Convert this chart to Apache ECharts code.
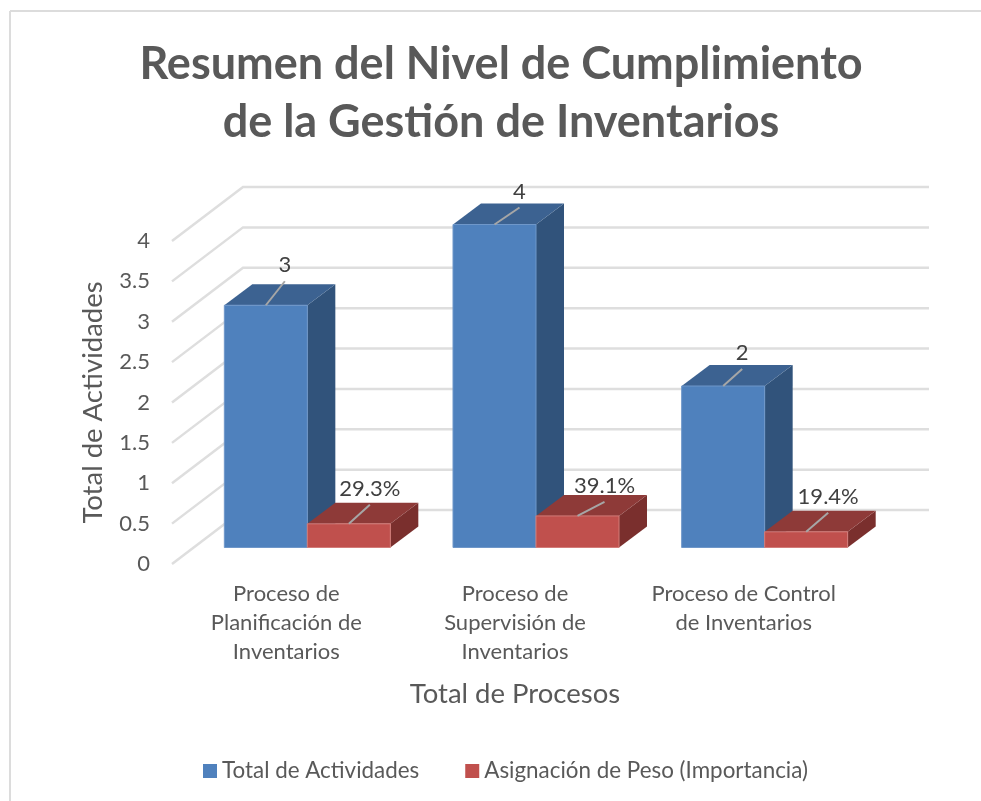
<!DOCTYPE html>
<html>
<head>
<meta charset="utf-8">
<style>
  html, body { margin: 0; padding: 0; background: #fff; }
  #chart { width: 981px; height: 801px; }
</style>
<script src="https://cdn.jsdelivr.net/npm/echarts@6/dist/echarts.min.js"></script>
</head>
<body>
<div id="chart"></div>
<script>
var categories = ['Proceso de\nPlanificación de\nInventarios', 'Proceso de\nSupervisión de\nInventarios', 'Proceso de Control\nde Inventarios']
var totalActividades = [3, 4, 2]
var asignacionPeso = [0.293, 0.391, 0.194]
var yTicks = [0, 0.5, 1, 1.5, 2, 2.5, 3, 3.5, 4]

var FONT = 'Lato, sans-serif'
// fake 3d: wall depth and where the bars stand on the floor
var WALL_DX = 71
var WALL_DY = 54
var BAR_DX = 21
var BAR_DY = 16.5
var BAR_W = 83
var TOP_DX = 28
var TOP_DY = 21

// little leader line from the top face to the data label
var leaders = {
  blue: [[19, -24], [25, -17], [19, -17]],
  red: [[21, -19], [27, -14], [22, -19]]
}

function wallItem(params, api) {
  var rect = params.coordSys
  var y = api.coord([0, api.value(0)])[1]
  var x = rect.x
  return {
    type: 'polyline',
    silent: true,
    shape: {
      points: [[x, y], [x + WALL_DX, y - WALL_DY], [x + rect.width + WALL_DX, y - WALL_DY]]
    },
    style: { fill: null, stroke: '#dedede', lineWidth: 2.5 }
  }
}

function barItem(colors, slot, leader, format) {
  return function (params, api) {
    var i = params.dataIndex
    var val = api.value(1)
    var base = api.coord([i, 0])
    var top = api.coord([i, val])
    var x0 = base[0] + BAR_DX + (slot === 0 ? -BAR_W : 0)
    var x1 = x0 + BAR_W
    var yb = base[1] - BAR_DY
    var yt = top[1] - BAR_DY
    var midX = (x0 + x1) / 2
    var end = [midX + leader[i][0], yt + leader[i][1]]
    return {
      type: 'group',
      children: [
        {
          type: 'polygon',
          shape: { points: [[x1, yb], [x1 + TOP_DX, yb - TOP_DY], [x1 + TOP_DX, yt - TOP_DY], [x1, yt]] },
          style: { fill: colors.side }
        },
        {
          type: 'polygon',
          shape: { points: [[x0, yt], [x1, yt], [x1 + TOP_DX, yt - TOP_DY], [x0 + TOP_DX, yt - TOP_DY]] },
          style: { fill: colors.top }
        },
        {
          type: 'rect',
          shape: { x: x0, y: yt, width: BAR_W, height: yb - yt },
          style: { fill: colors.front, stroke: colors.edge, lineWidth: 1 }
        },
        {
          type: 'line',
          shape: { x1: midX, y1: yt, x2: end[0], y2: end[1] },
          style: { stroke: '#a6a6a6', lineWidth: 2 }
        },
        {
          type: 'text',
          style: {
            x: end[0],
            y: end[1] - 5,
            text: format(val),
            fill: '#404040',
            font: '22px ' + FONT,
            textAlign: 'center',
            textVerticalAlign: 'bottom'
          }
        }
      ]
    }
  }
}

var chart = echarts.init(document.getElementById('chart'))

chart.setOption({
  animation: false,
  backgroundColor: '#fff',
  title: {
    text: 'Resumen del Nivel de Cumplimiento\nde la Gestión de Inventarios',
    left: 496,
    top: 30,
    textAlign: 'center',
    textStyle: { fontFamily: FONT, fontSize: 45, fontWeight: 'bold', color: '#595959', lineHeight: 58 }
  },
  legend: {
    left: 198,
    top: 755,
    itemWidth: 14,
    itemHeight: 14,
    itemGap: 46,
    icon: 'rect',
    data: ['Total de Actividades', 'Asignación de Peso (Importancia)'],
    textStyle: { fontFamily: FONT, fontSize: 22.4, color: '#595959' }
  },
  graphic: [
    { type: 'line', silent: true, shape: { x1: 10, y1: 11, x2: 981, y2: 11 }, style: { stroke: '#dcdcdc', lineWidth: 2 } },
    { type: 'line', silent: true, shape: { x1: 10, y1: 11, x2: 10, y2: 801 }, style: { stroke: '#dcdcdc', lineWidth: 2 } }
  ],
  grid: { left: 172, top: 241, width: 686, height: 323 },
  xAxis: {
    type: 'category',
    data: categories,
    name: 'Total de Procesos',
    nameLocation: 'middle',
    nameGap: 116,
    nameTextStyle: { fontFamily: FONT, fontSize: 27.5, color: '#595959' },
    axisLine: { show: false },
    axisTick: { show: false },
    axisLabel: { fontFamily: FONT, fontSize: 22, color: '#595959', lineHeight: 29, margin: 15, interval: 0 }
  },
  yAxis: {
    type: 'value',
    min: 0,
    max: 4,
    interval: 0.5,
    name: 'Total de Actividades',
    nameLocation: 'middle',
    nameGap: 65,
    nameTextStyle: { fontFamily: FONT, fontSize: 27.5, color: '#595959' },
    axisLine: { show: false },
    axisTick: { show: false },
    splitLine: { show: false },
    axisLabel: { fontFamily: FONT, fontSize: 22, color: '#595959', margin: 22, padding: [8, 0, 0, 0] }
  },
  series: [
    {
      type: 'custom',
      name: 'wall',
      silent: true,
      z: 1,
      encode: { y: 0 },
      data: yTicks.map(function (t) { return [t] }),
      renderItem: wallItem
    },
    {
      type: 'custom',
      name: 'Total de Actividades',
      z: 2,
      itemStyle: { color: '#4f81bd' },
      encode: { x: 0, y: 1 },
      data: totalActividades.map(function (v, i) { return [i, v] }),
      renderItem: barItem(
        { front: '#4f81bd', top: '#3c6291', side: '#31537b', edge: '#6f97c9' },
        0, leaders.blue, function (v) { return String(v) }
      )
    },
    {
      type: 'custom',
      name: 'Asignación de Peso (Importancia)',
      z: 3,
      itemStyle: { color: '#c0504d' },
      encode: { x: 0, y: 1 },
      data: asignacionPeso.map(function (v, i) { return [i, v] }),
      renderItem: barItem(
        { front: '#c0504d', top: '#8e3a38', side: '#7a2f2d', edge: '#d27c79' },
        1, leaders.red, function (v) { return (v * 100).toFixed(1) + '%' }
      )
    }
  ]
})
</script>
</body>
</html>
